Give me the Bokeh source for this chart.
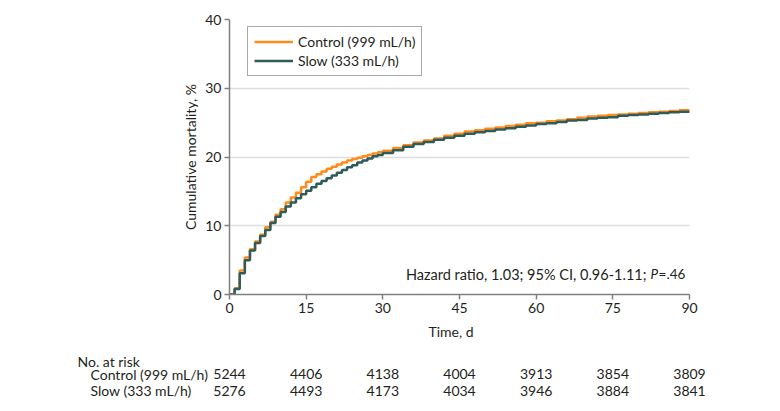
from bokeh.plotting import figure
from bokeh.layouts import column
from bokeh.models import Label, Range1d, FixedTicker, Legend, LegendItem, ColumnDataSource
from bokeh.core.properties import value
from bokeh.embed import file_html
from bokeh.resources import INLINE

# ---- data ----
days = [0, 1, 2, 3, 4, 5, 6, 7, 8, 9, 10, 11, 12, 13, 14, 15, 16, 17, 18, 19, 20,
        21, 22, 23, 24, 25, 26, 27, 28, 29, 30,
        32, 34, 36, 38, 40, 42, 44, 46, 48, 50, 52, 54, 56, 58, 60,
        62, 64, 66, 68, 70, 72, 74, 76, 78, 80, 82, 84, 86, 88, 90]
control = [0, 0.9, 3.5, 5.4, 6.6, 7.7, 8.7, 9.8, 10.6, 11.6, 12.4, 13.4, 14.1, 14.8, 15.6,
           16.4, 17.1, 17.5, 17.9, 18.3, 18.6, 18.9, 19.2, 19.5, 19.7, 19.9, 20.1, 20.3,
           20.5, 20.7, 20.9,
           21.3, 21.7, 22.1, 22.4, 22.7, 23.1, 23.4, 23.7, 23.9, 24.1, 24.3, 24.5, 24.7,
           24.9, 25.0, 25.2, 25.3, 25.5, 25.7, 25.9, 26.0, 26.1, 26.2, 26.3, 26.4, 26.5,
           26.6, 26.7, 26.8, 26.9]
slow = [0, 0.8, 3.1, 5.0, 6.4, 7.5, 8.5, 9.4, 10.4, 11.3, 12.0, 12.8, 13.4, 14.0, 14.6,
        15.1, 15.6, 16.1, 16.5, 16.9, 17.3, 17.7, 18.1, 18.5, 18.8, 19.2, 19.5, 19.8,
        20.1, 20.3, 20.6,
        21.0, 21.5, 21.9, 22.2, 22.5, 22.8, 23.1, 23.4, 23.6, 23.8, 24.0, 24.2, 24.4,
        24.6, 24.8, 24.9, 25.1, 25.3, 25.4, 25.6, 25.7, 25.8, 26.0, 26.1, 26.2, 26.3,
        26.4, 26.5, 26.6, 26.7]

x_ticks = [0, 15, 30, 45, 60, 75, 90]
y_ticks = [0, 10, 20, 30, 40]
risk_days = [0, 15, 30, 45, 60, 75, 90]
risk_control = [5244, 4406, 4138, 4004, 3913, 3854, 3809]
risk_slow = [5276, 4493, 4173, 4034, 3946, 3884, 3841]
series_names = ["Control (999 mL/h)", "Slow (333 mL/h)"]
colors = ["#FF8C1A", "#2E5B5C"]

FONT = "Lato"
TXT = "#231f20"

# ---- layout constants (pixels) ----
W = 772
LEFT, FRAME_W, TOP, FRAME_H = 229, 460, 19, 275
MAIN_H = 318
TABLE_H = 87
X0, X1 = 0, 90
PX_PER_DAY = FRAME_W / (X1 - X0)


def px_to_day(px):
    return X0 + (px - LEFT) / PX_PER_DAY


p = figure(width=W, height=MAIN_H, output_backend="svg", toolbar_location=None,
           x_range=Range1d(X0, X1), y_range=Range1d(0, 40),
           min_border_left=LEFT, min_border_right=W - LEFT - FRAME_W,
           min_border_top=TOP, min_border_bottom=MAIN_H - TOP - FRAME_H)
p.frame_align = False
p.outline_line_color = None
p.xgrid.grid_line_color = None
p.ygrid.grid_line_color = "#dedede"
p.ygrid.grid_line_width = 1.5

for ax in (p.xaxis[0], p.yaxis[0]):
    ax.axis_line_color = "#808080"
    ax.axis_line_width = 1.5
    ax.major_tick_line_color = "#808080"
    ax.major_tick_line_width = 1.5
    ax.major_tick_out = 5
    ax.major_tick_in = 0
    ax.minor_tick_line_color = None
    ax.major_label_text_font = FONT
    ax.major_label_text_font_size = "14px"
    ax.major_label_text_color = TXT
    ax.axis_label_text_font = FONT
    ax.axis_label_text_font_size = "14px"
    ax.axis_label_text_font_style = "normal"
    ax.axis_label_text_color = TXT

p.xaxis.ticker = FixedTicker(ticks=x_ticks)
p.yaxis.ticker = FixedTicker(ticks=y_ticks)
p.yaxis.axis_label = "Cumulative mortality, %"
p.xaxis.major_label_standoff = 3
p.yaxis.major_label_standoff = 3
p.yaxis.axis_label_standoff = 3

r1 = p.step(days, control, mode="after", line_color=colors[0], line_width=2.5)
r2 = p.step(days, slow, mode="after", line_color=colors[1], line_width=2.5)

legend = Legend(items=[LegendItem(label=series_names[0], renderers=[r1]),
                       LegendItem(label=series_names[1], renderers=[r2])],
                location=(18, 218))
legend.label_text_font = FONT
legend.label_text_font_size = "14px"
legend.label_text_color = TXT
legend.border_line_color = "#555555"
legend.border_line_width = 1
legend.glyph_width = 39
legend.glyph_height = 15
legend.label_standoff = 5
legend.spacing = 2
legend.padding = 6
legend.margin = 0
legend.label_height = 15
p.add_layout(legend)

# hazard ratio annotation
HR_Y = 2.95
main_kw = dict(text_font=FONT, text_font_size="14.5px", text_color=TXT, text_baseline="middle")
small_kw = dict(text_font=FONT, text_font_size="13.5px", text_color=TXT, text_baseline="middle")
p.add_layout(Label(x=px_to_day(646), y=HR_Y, text="Hazard ratio, 1.03; 95% CI, 0.96-1.11;",
                   text_align="right", **main_kw))
p.add_layout(Label(x=px_to_day(657.5), y=HR_Y, text="P", text_align="right",
                   text_font_style="italic", **small_kw))
p.add_layout(Label(x=px_to_day(662), y=HR_Y, text="=", text_align="center", **small_kw))
p.add_layout(Label(x=px_to_day(666), y=HR_Y, text=".46", text_align="left", **small_kw))

# ---- x-axis title and number-at-risk table (separate figure, same x scale) ----
t = figure(width=W, height=TABLE_H, output_backend="svg", toolbar_location=None,
           x_range=Range1d(px_to_day(0), px_to_day(W)), y_range=Range1d(TABLE_H, 0),
           min_border=0, min_border_left=0, min_border_right=0,
           min_border_top=0, min_border_bottom=0)
t.frame_align = False
t.axis.visible = False
t.grid.visible = False
t.outline_line_color = None
t.background_fill_color = None
t.border_fill_color = None

ROW_TITLE, ROW_HDR, ROW_C, ROW_S = 12.5, 42.7, 55.8, 72.0
txt_kw = dict(text_font=value(FONT), text_font_size="14px", text_color=TXT,
              text_baseline="middle")
t.text(x=[px_to_day(450.5)], y=[ROW_TITLE], text=["Time, d"], text_align="center", **txt_kw)
t.text(x=[px_to_day(77)], y=[ROW_HDR], text=["No. at risk"], text_align="left", **txt_kw)
t.text(x=[px_to_day(90)] * 2, y=[ROW_C, ROW_S], text=series_names, text_align="left", **txt_kw)
src = ColumnDataSource(dict(x=risk_days, yc=[ROW_C] * len(risk_days), ys=[ROW_S] * len(risk_days),
                            c=[str(v) for v in risk_control], s=[str(v) for v in risk_slow]))
t.text(x="x", y="yc", text="c", source=src, text_align="center", **txt_kw)
t.text(x="x", y="ys", text="s", source=src, text_align="center", **txt_kw)

layout = column(p, t, spacing=0)
open("out.html", "w").write(file_html(layout, INLINE))
